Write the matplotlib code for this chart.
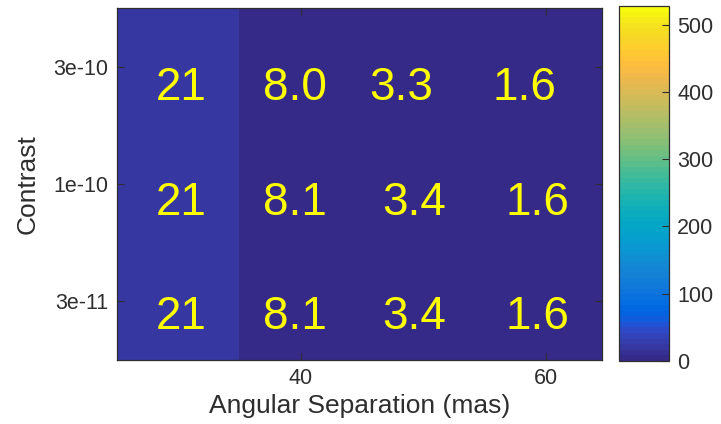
import numpy as np
import matplotlib
matplotlib.use("Agg")
import matplotlib.pyplot as plt
from matplotlib.colors import ListedColormap

# ---- data ----
separations = [30, 40, 50, 60]                 # mas (column centres)
contrasts = ["3e-10", "1e-10", "3e-11"]        # rows, top to bottom
values = [
    [21, 8.0, 3.3, 1.6],
    [21, 8.1, 3.4, 1.6],
    [21, 8.1, 3.4, 1.6],
]
labels = [
    ["21", "8.0", "3.3", "1.6"],
    ["21", "8.1", "3.4", "1.6"],
    ["21", "8.1", "3.4", "1.6"],
]
x_ticks = [40, 60]
cbar_ticks = [0, 100, 200, 300, 400, 500]
cmin, cmax = 0, 528

# ---- parula colormap (MATLAB) ----
parula_rgb = [
    [0.2081, 0.1663, 0.5292], [0.2116, 0.1898, 0.5777], [0.2123, 0.2138, 0.6270],
    [0.2081, 0.2386, 0.6771], [0.1959, 0.2645, 0.7279], [0.1707, 0.2919, 0.7792],
    [0.1253, 0.3242, 0.8303], [0.0591, 0.3598, 0.8683], [0.0117, 0.3875, 0.8820],
    [0.0060, 0.4086, 0.8828], [0.0165, 0.4266, 0.8786], [0.0329, 0.4430, 0.8720],
    [0.0498, 0.4586, 0.8641], [0.0629, 0.4737, 0.8554], [0.0723, 0.4887, 0.8467],
    [0.0779, 0.5040, 0.8384], [0.0793, 0.5200, 0.8312], [0.0749, 0.5375, 0.8263],
    [0.0641, 0.5570, 0.8240], [0.0488, 0.5772, 0.8228], [0.0343, 0.5966, 0.8199],
    [0.0265, 0.6137, 0.8135], [0.0239, 0.6287, 0.8038], [0.0231, 0.6418, 0.7913],
    [0.0228, 0.6535, 0.7768], [0.0267, 0.6642, 0.7607], [0.0384, 0.6743, 0.7436],
    [0.0590, 0.6838, 0.7254], [0.0843, 0.6928, 0.7062], [0.1133, 0.7015, 0.6859],
    [0.1453, 0.7098, 0.6646], [0.1801, 0.7177, 0.6424], [0.2178, 0.7250, 0.6193],
    [0.2586, 0.7317, 0.5954], [0.3022, 0.7376, 0.5712], [0.3482, 0.7424, 0.5473],
    [0.3953, 0.7459, 0.5244], [0.4420, 0.7481, 0.5033], [0.4871, 0.7491, 0.4840],
    [0.5300, 0.7491, 0.4661], [0.5709, 0.7485, 0.4494], [0.6099, 0.7473, 0.4337],
    [0.6473, 0.7456, 0.4188], [0.6834, 0.7435, 0.4044], [0.7184, 0.7411, 0.3905],
    [0.7525, 0.7384, 0.3768], [0.7858, 0.7356, 0.3633], [0.8185, 0.7327, 0.3498],
    [0.8507, 0.7299, 0.3360], [0.8824, 0.7274, 0.3217], [0.9139, 0.7258, 0.3063],
    [0.9450, 0.7261, 0.2886], [0.9739, 0.7314, 0.2666], [0.9938, 0.7455, 0.2403],
    [0.9990, 0.7653, 0.2164], [0.9955, 0.7861, 0.1967], [0.9880, 0.8066, 0.1794],
    [0.9789, 0.8271, 0.1633], [0.9697, 0.8481, 0.1475], [0.9626, 0.8705, 0.1309],
    [0.9589, 0.8949, 0.1132], [0.9598, 0.9218, 0.0948], [0.9661, 0.9514, 0.0755],
    [0.9763, 0.9831, 0.0538],
]
parula = ListedColormap(parula_rgb, name="parula")

plt.rcParams["font.family"] = ["Liberation Sans", "DejaVu Sans"]
TXT = "#2e2e2e"

W, H = 721, 424
fig = plt.figure(figsize=(W / 100, H / 100), dpi=100)
ax = fig.add_axes([117 / W, (H - 360) / H, 485 / W, 352 / H])

xc = np.array(separations, dtype=float)
dx = np.diff(xc).mean()
x_edges = np.concatenate([xc - dx / 2, [xc[-1] + dx / 2]])
y_edges = np.arange(len(contrasts) + 1) - 0.5
mesh = ax.pcolormesh(x_edges, y_edges, np.array(values), cmap=parula,
                     vmin=cmin, vmax=cmax, shading="flat")
ax.set_xlim(x_edges[0], x_edges[-1] - 0.4)
ax.set_ylim(y_edges[-1], y_edges[0])

# text offsets (pixels) to mimic the hand-placed labels
text_dx = [
    [-22, -38, -54, -53],
    [-22, -38, -41, -40],
    [-22, -38, -41, -40],
]
text_dy = [0.285, 0.265, 0.24]
for i in range(len(contrasts)):
    for j in range(len(separations)):
        ax.annotate(labels[i][j], xy=(xc[j], i + text_dy[i]), xycoords="data",
                    xytext=(text_dx[i][j] * 0.72, 0), textcoords="offset points",
                    ha="left", va="baseline", color="#ffff00", fontsize=33)

ax.set_xticks(x_ticks)
ax.set_xticklabels([str(t) for t in x_ticks])
ax.set_yticks(range(len(contrasts)))
ax.set_yticklabels(contrasts)
ax.tick_params(direction="in", length=5, width=0.8, top=True, right=True,
               labelsize=15.5, colors=TXT, labelcolor=TXT, pad=6)
for s in ax.spines.values():
    s.set_color(TXT)
    s.set_linewidth(0.9)
ax.set_xlabel("Angular Separation (mas)", fontsize=19, color=TXT, labelpad=3)
ax.set_ylabel("Contrast", fontsize=19, color=TXT, labelpad=10)

cax = fig.add_axes([619 / W, (H - 360.7) / H, 50 / W, 354.7 / H])
cb = fig.colorbar(mesh, cax=cax, ticks=cbar_ticks)
cb.outline.set_edgecolor(TXT)
cb.outline.set_linewidth(0.9)
cax.tick_params(direction="in", length=5, width=0.8, labelsize=15.5,
                colors=TXT, labelcolor=TXT, pad=6)

fig.savefig("out.png", dpi=100)
